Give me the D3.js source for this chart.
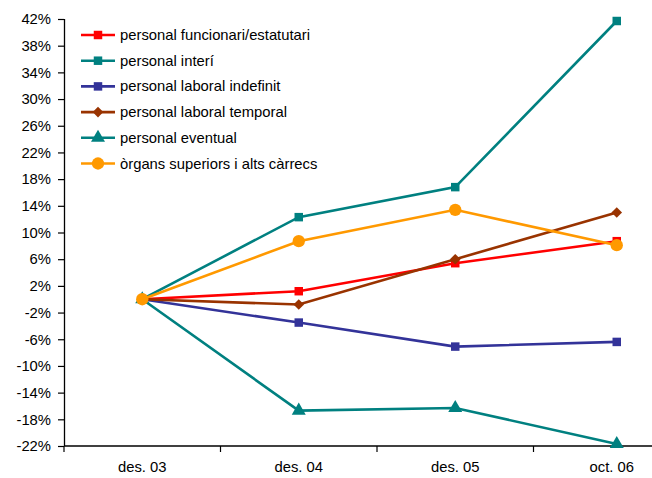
<!DOCTYPE html>
<html>
<head>
<meta charset="utf-8">
<script src="https://cdn.jsdelivr.net/npm/d3@7"></script>
<style>
  body { margin: 0; background: #fff; }
  text { font-family: "Liberation Sans", Arial, sans-serif; fill: #000; }
</style>
</head>
<body>
<div id="chart"></div>
<script>
const categories = ["des. 03", "des. 04", "des. 05", "oct. 06"];
const yTicks = [-22, -18, -14, -10, -6, -2, 2, 6, 10, 14, 18, 22, 26, 30, 34, 38, 42];

const funcionari = [0, 1.2, 5.4, 8.7];
const interi = [0, 12.3, 16.8, 41.7];
const indefinit = [0, -3.5, -7.1, -6.4];
const temporal = [0, -0.8, 6.0, 13.0];
const eventual = [0, -16.7, -16.3, -21.7];
const organs = [0, 8.7, 13.4, 8.1];

const series = [
  { name: "personal funcionari/estatutari", values: funcionari, color: "#FF0000", symbol: "square" },
  { name: "personal interí", values: interi, color: "#008080", symbol: "square" },
  { name: "personal laboral indefinit", values: indefinit, color: "#333399", symbol: "square" },
  { name: "personal laboral temporal", values: temporal, color: "#993300", symbol: "diamond" },
  { name: "personal eventual", values: eventual, color: "#008080", symbol: "triangle" },
  { name: "òrgans superiors i alts càrrecs", values: organs, color: "#FF9900", symbol: "circle" }
];

const width = 652, height = 478;
const margin = { top: 19, left: 64, bottom: 32 };
const bandW = 156.5;
const fontSize = "14.8px";

const svg = d3.select("#chart").append("svg")
  .attr("width", width).attr("height", height)
  .style("display", "block");

const x = d3.scaleBand().domain(categories)
  .range([margin.left, margin.left + bandW * categories.length]);
const y = d3.scaleLinear().domain([-22, 42]).range([height - margin.bottom, margin.top]);

// y axis
const yAxis = svg.append("g")
  .attr("transform", `translate(${margin.left},0)`)
  .call(d3.axisLeft(y).tickValues(yTicks).tickFormat(d => d + "%").tickSize(6).tickSizeOuter(0));
yAxis.select(".domain").attr("stroke", "#000").attr("stroke-width", 1.3)
  .attr("d", `M0.5,${y(42)}V${y(-22)}`);
yAxis.selectAll(".tick line").attr("stroke", "#000").attr("stroke-width", 1.2);
yAxis.selectAll(".tick text")
  .attr("x", -13)
  .style("font-size", fontSize)
  .style("font-family", "'Liberation Sans', Arial, sans-serif");

// x axis
const xAxis = svg.append("g")
  .attr("transform", `translate(0,${y(-22)})`);
xAxis.append("line")
  .attr("x1", margin.left).attr("x2", width)
  .attr("stroke", "#000").attr("stroke-width", 1.3);
xAxis.selectAll(".xtick")
  .data(categories)
  .join("line")
  .attr("x1", d => x(d)).attr("x2", d => x(d))
  .attr("y1", 0).attr("y2", 6)
  .attr("stroke", "#000").attr("stroke-width", 1.2);
xAxis.selectAll(".xlabel")
  .data(categories)
  .join("text")
  .attr("x", d => x(d) + x.bandwidth() / 2)
  .attr("y", 26)
  .attr("text-anchor", "middle")
  .style("font-size", fontSize)
  .text(d => d);

const px = (i) => x(categories[i]) + x.bandwidth() / 2 + (i === 3 ? 5 : 0);

const line = d3.line()
  .x((d, i) => px(i))
  .y(d => y(d));

function symbolPath(type, size) {
  const map = {
    square: d3.symbolSquare,
    diamond: d3.symbolSquare,
    triangle: d3.symbolTriangle,
    circle: d3.symbolCircle
  };
  return d3.symbol().type(map[type]).size(size)();
}
const sizes = { square: 72, diamond: 56, triangle: 85, circle: 120 };
const rot = (t) => t === "diamond" ? " rotate(45)" : "";

series.forEach(s => {
  const g = svg.append("g");
  g.append("path")
    .attr("d", line(s.values))
    .attr("fill", "none")
    .attr("stroke", s.color)
    .attr("stroke-width", 2.6);
  g.selectAll("path.m")
    .data(s.values)
    .join("path")
    .attr("class", "m")
    .attr("transform", (d, i) => `translate(${px(i)},${y(d)})` + rot(s.symbol))
    .attr("d", symbolPath(s.symbol, sizes[s.symbol]))
    .attr("fill", s.color);
});

// legend
const legend = svg.append("g");
series.forEach((s, i) => {
  const ly = 35 + i * 25.7;
  legend.append("line")
    .attr("x1", 81).attr("x2", 115)
    .attr("y1", ly).attr("y2", ly)
    .attr("stroke", s.color).attr("stroke-width", 2.6);
  legend.append("path")
    .attr("transform", `translate(98,${ly})` + rot(s.symbol))
    .attr("d", symbolPath(s.symbol, sizes[s.symbol]))
    .attr("fill", s.color);
  legend.append("text")
    .attr("x", 120)
    .attr("y", ly + 5)
    .style("font-size", fontSize)
    .text(s.name);
});
</script>
</body>
</html>
